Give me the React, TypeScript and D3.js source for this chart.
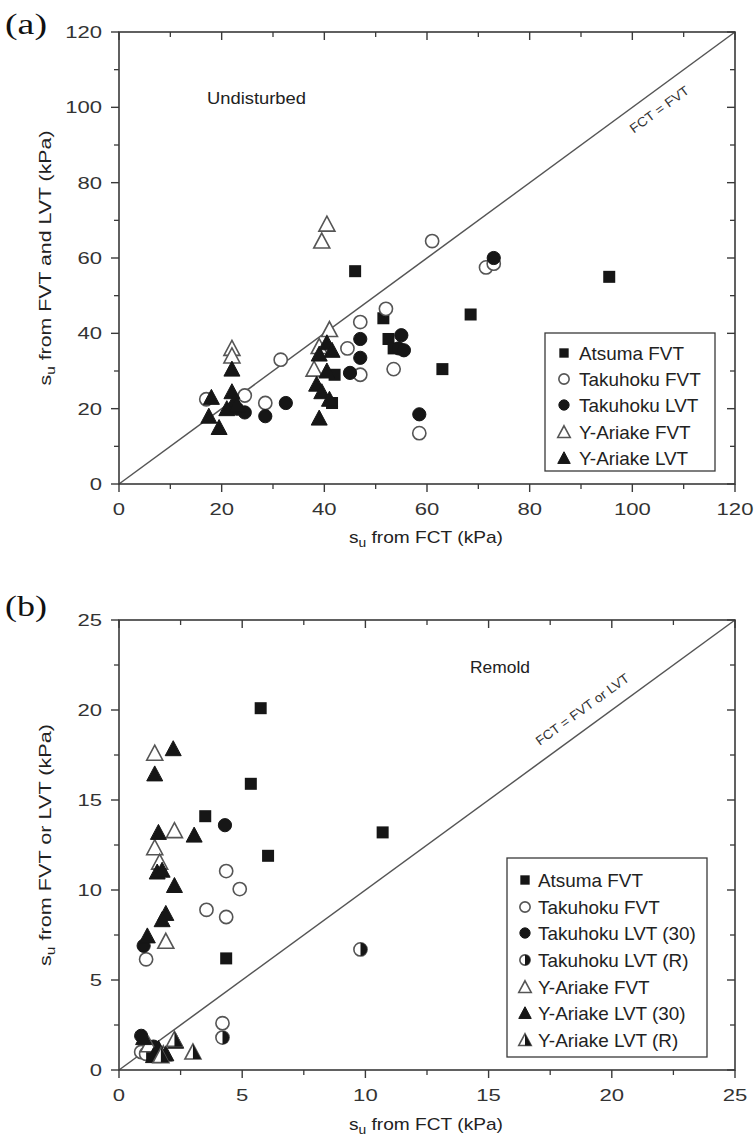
import React from 'react';
import * as d3 from 'd3';

type P = [number, number];

// ---------- Panel (a): Undisturbed ----------
const aTicks = [0, 20, 40, 60, 80, 100, 120];
const aMinor = [10, 30, 50, 70, 90, 110];
const aAtsumaFVT: P[] = [[46, 56.5], [95.5, 55], [68.5, 45], [63, 30.5], [51.5, 44], [52.5, 38.5], [53.5, 36], [42, 29], [41.5, 21.5]];
const aTakuhokuFVT: P[] = [[17, 22.5], [24.5, 23.5], [28.5, 21.5], [31.5, 33], [44.5, 36], [47, 43], [47, 29], [52, 46.5], [53.5, 30.5], [58.5, 13.5], [61, 64.5], [71.5, 57.5], [73, 58.5]];
const aTakuhokuLVT: P[] = [[24.5, 19], [28.5, 18], [32.5, 21.5], [45, 29.5], [47, 33.5], [47, 38.5], [54.5, 36], [55, 39.5], [55.5, 35.5], [58.5, 18.5], [73, 60], [23, 20]];
const aYAriakeFVT: P[] = [[22, 36], [22, 34], [39.5, 64.5], [40.5, 69], [41, 41], [38, 30.5], [39, 36.5]];
const aYAriakeLVT: P[] = [[17.5, 18], [18, 23], [19.5, 15], [22, 30.5], [22, 24.5], [22.5, 22], [21, 20], [23, 21], [39, 34.5], [40.5, 37.5], [41.5, 35.5], [40.5, 30], [38.5, 26.5], [39.5, 24.5], [41, 22.5], [39, 17.5]];

// ---------- Panel (b): Remold ----------
const bTicks = [0, 5, 10, 15, 20, 25];
const bMinor = [2.5, 7.5, 12.5, 17.5, 22.5];
const bAtsumaFVT: P[] = [[5.75, 20.1], [5.35, 15.9], [3.5, 14.1], [6.05, 11.9], [4.35, 6.2], [10.7, 13.2]];
const bTakuhokuFVT: P[] = [[4.35, 11.05], [4.9, 10.05], [3.55, 8.9], [4.35, 8.5], [1.1, 6.15], [4.2, 2.6], [0.9, 1.0], [1.3, 1.2]];
const bTakuhokuLVT30: P[] = [[4.3, 13.6], [1.0, 6.9], [0.9, 1.9], [1.4, 1.3]];
const bTakuhokuLVTR: P[] = [[4.2, 1.8], [9.8, 6.7], [1.1, 0.9]];
const bYAriakeFVT: P[] = [[1.45, 17.6], [1.45, 12.35], [1.65, 11.55], [2.25, 13.3], [1.9, 7.15], [1.2, 1.4], [1.8, 0.9]];
const bYAriakeLVT30: P[] = [[2.2, 17.85], [1.45, 16.45], [1.6, 13.2], [3.05, 13.05], [1.55, 11.0], [1.75, 11.1], [2.25, 10.25], [1.9, 8.7], [1.75, 8.35], [1.15, 7.45], [1.0, 1.8], [1.6, 1.2], [2.3, 1.6], [1.9, 0.9], [1.4, 0.8]];
const bYAriakeLVTR: P[] = [[2.25, 1.7], [3.0, 1.0], [1.7, 0.8]];

const SANS = '"Liberation Sans", Arial, sans-serif';
const SERIF = '"Liberation Serif", "Times New Roman", serif';
const DARK = '#161616';
const GRAY = '#555';
const AX = '#3a3a3a';

type Kind = 'square' | 'circO' | 'circF' | 'circH' | 'triO' | 'triF' | 'triH';

function Marker({ kind, x, y, s = 1 }: { kind: Kind; x: number; y: number; s?: number }) {
  const sq = 12 * s;
  const r = 6.6 * s;
  const tw = 16 * s;
  const th = 14 * s;
  const tri = `M0,${-th / 2 - 1 * s} L${tw / 2},${th / 2} L${-tw / 2},${th / 2} Z`;
  const triRight = `M0,${-th / 2 - 1 * s} L${tw / 2},${th / 2} L0,${th / 2} Z`;
  const halfC = `M0,${-r} A${r},${r} 0 0 1 0,${r} Z`;
  const sw = 1.6;
  return (
    <g transform={`translate(${x},${y})`}>
      {kind === 'square' && <rect x={-sq / 2} y={-sq / 2} width={sq} height={sq} fill={DARK} />}
      {kind === 'circO' && <circle r={r} fill="#fff" stroke={GRAY} strokeWidth={sw} />}
      {kind === 'circF' && <circle r={r} fill={DARK} stroke={DARK} strokeWidth={1} />}
      {kind === 'circH' && (
        <g>
          <circle r={r} fill="#fff" stroke={GRAY} strokeWidth={sw} />
          <path d={halfC} fill={DARK} />
        </g>
      )}
      {kind === 'triO' && <path d={tri} fill="#fff" stroke={GRAY} strokeWidth={sw} strokeLinejoin="miter" />}
      {kind === 'triF' && <path d={tri} fill={DARK} stroke={DARK} strokeWidth={1} />}
      {kind === 'triH' && (
        <g>
          <path d={tri} fill="#fff" stroke={GRAY} strokeWidth={sw} />
          <path d={triRight} fill={DARK} />
        </g>
      )}
    </g>
  );
}

function Sub({ main, rest, size }: { main: string; rest: string; size: number }) {
  return (
    <>
      {main}
      <tspan fontSize={size * 0.72} dy={size * 0.25}>u</tspan>
      <tspan dy={-size * 0.25}>{rest}</tspan>
    </>
  );
}

type Series = { name: string; kind: Kind; data: P[] };

type PanelCfg = {
  label: string;
  labelY: number;
  x: d3.ScaleLinear<number, number>;
  y: d3.ScaleLinear<number, number>;
  ticks: number[];
  minor: number[];
  max: number;
  series: Series[];
  yTitle: string;
  yTitleLen: number;
  xTitleY: number;
  note: string;
  noteX: number;
  noteY: number;
  noteLen: number;
  diag: string;
  diagX: number;
  diagY: number;
  diagLen: number;
  legend: { x0: number; y0: number; x1: number; y1: number; symX: number; textX: number; rows: number[] };
};

function Panel({ c }: { c: PanelCfg }) {
  const { x, y } = c;
  const [x0, x1] = x.range();
  const [y0, y1] = y.range();
  const angle = (Math.atan2(y0 - y1, x1 - x0) * 180) / Math.PI;
  const maj = 8;
  const mnr = 5;
  return (
    <g>
      <text x={5} y={c.labelY} fontFamily={SERIF} fontSize={29} fill="#111" textLength={42} lengthAdjust="spacingAndGlyphs">
        {c.label}
      </text>
      {/* diagonal */}
      <line x1={x(0)} y1={y(0)} x2={x(c.max)} y2={y(c.max)} stroke={GRAY} strokeWidth={1.5} />
      {/* frame */}
      <rect x={x0} y={y1} width={x1 - x0} height={y0 - y1} fill="none" stroke={AX} strokeWidth={1.6} />
      {/* ticks */}
      {c.ticks.map((t) => (
        <g key={'t' + t}>
          <line x1={x(t)} x2={x(t)} y1={y0} y2={y0 + maj} stroke={AX} strokeWidth={1.4} />
          <line x1={x(t)} x2={x(t)} y1={y1} y2={y1 + maj} stroke={AX} strokeWidth={1.4} />
          <line y1={y(t)} y2={y(t)} x1={x0 - maj} x2={x0} stroke={AX} strokeWidth={1.4} />
          <line y1={y(t)} y2={y(t)} x1={x1 - maj} x2={x1} stroke={AX} strokeWidth={1.4} />
          <text transform={`translate(${x(t)},${y0 + 31}) scale(1.3,1)`} textAnchor="middle" fontFamily={SANS} fontSize={17} fill="#333">
            {t}
          </text>
          <text transform={`translate(${x0 - 17},${y(t) + 6}) scale(1.3,1)`} textAnchor="end" fontFamily={SANS} fontSize={17} fill="#333">
            {t}
          </text>
        </g>
      ))}
      {c.minor.map((t) => (
        <g key={'m' + t}>
          <line x1={x(t)} x2={x(t)} y1={y0} y2={y0 + mnr} stroke={AX} strokeWidth={1.3} />
          <line x1={x(t)} x2={x(t)} y1={y1} y2={y1 + mnr} stroke={AX} strokeWidth={1.3} />
          <line y1={y(t)} y2={y(t)} x1={x0 - mnr} x2={x0} stroke={AX} strokeWidth={1.3} />
          <line y1={y(t)} y2={y(t)} x1={x1 - mnr} x2={x1} stroke={AX} strokeWidth={1.3} />
        </g>
      ))}
      {/* axis titles */}
      <text x={(x0 + x1) / 2 - 1} y={c.xTitleY} textAnchor="middle" fontFamily={SANS} fontSize={17} fill="#222" textLength={154} lengthAdjust="spacingAndGlyphs">
        <Sub main="s" rest=" from FCT (kPa)" size={17} />
      </text>
      <text transform={`translate(51,${(y0 + y1) / 2}) rotate(-90)`} textAnchor="middle" fontFamily={SANS} fontSize={17} fill="#222" textLength={c.yTitleLen} lengthAdjust="spacingAndGlyphs">
        <Sub main="s" rest={c.yTitle} size={17} />
      </text>
      {/* notes */}
      <text x={c.noteX} y={c.noteY} fontFamily={SANS} fontSize={17} fill="#222" textLength={c.noteLen} lengthAdjust="spacingAndGlyphs">
        {c.note}
      </text>
      <text transform={`translate(${c.diagX},${c.diagY}) rotate(${-angle})`} textAnchor="middle" fontFamily={SANS} fontSize={13} fill="#333" textLength={c.diagLen} lengthAdjust="spacingAndGlyphs">
        {c.diag}
      </text>
      {/* data */}
      {c.series.map((s) => (
        <g key={s.name}>
          {s.data.map((d, i) => (
            <Marker key={i} kind={s.kind} x={x(d[0])} y={y(d[1])} />
          ))}
        </g>
      ))}
      {/* legend */}
      <rect x={c.legend.x0} y={c.legend.y0} width={c.legend.x1 - c.legend.x0} height={c.legend.y1 - c.legend.y0} fill="#fff" stroke={AX} strokeWidth={1.3} />
      {c.series.map((s, i) => (
        <g key={'l' + s.name}>
          <Marker kind={s.kind} x={c.legend.symX} y={c.legend.rows[i]} s={0.78} />
          <text transform={`translate(${c.legend.textX},${c.legend.rows[i] + 6.5}) scale(1.05,1)`} fontFamily={SANS} fontSize={18} fill="#222">
            {s.name}
          </text>
        </g>
      ))}
    </g>
  );
}

export default function App() {
  const ax = d3.scaleLinear().domain([0, 120]).range([119, 735]);
  const ay = d3.scaleLinear().domain([0, 120]).range([484, 32]);
  const bx = d3.scaleLinear().domain([0, 25]).range([119, 735]);
  const by = d3.scaleLinear().domain([0, 25]).range([1070, 620]);

  const a: PanelCfg = {
    label: '(a)',
    labelY: 34,
    x: ax,
    y: ay,
    ticks: aTicks,
    minor: aMinor,
    max: 120,
    series: [
      { name: 'Atsuma FVT', kind: 'square', data: aAtsumaFVT },
      { name: 'Takuhoku FVT', kind: 'circO', data: aTakuhokuFVT },
      { name: 'Takuhoku LVT', kind: 'circF', data: aTakuhokuLVT },
      { name: 'Y-Ariake FVT', kind: 'triO', data: aYAriakeFVT },
      { name: 'Y-Ariake LVT', kind: 'triF', data: aYAriakeLVT },
    ],
    yTitle: ' from FVT and LVT (kPa)',
    yTitleLen: 255,
    xTitleY: 543,
    note: 'Undisturbed',
    noteX: 207,
    noteY: 104,
    noteLen: 99,
    diag: 'FCT = FVT',
    diagX: 662,
    diagY: 113,
    diagLen: 70,
    legend: { x0: 545, y0: 333, x1: 715, y1: 471, symX: 564, textX: 579, rows: [353, 379, 405, 432, 458] },
  };

  const b: PanelCfg = {
    label: '(b)',
    labelY: 616,
    x: bx,
    y: by,
    ticks: bTicks,
    minor: bMinor,
    max: 25,
    series: [
      { name: 'Atsuma FVT', kind: 'square', data: bAtsumaFVT },
      { name: 'Takuhoku FVT', kind: 'circO', data: bTakuhokuFVT },
      { name: 'Takuhoku LVT (30)', kind: 'circF', data: bTakuhokuLVT30 },
      { name: 'Takuhoku LVT (R)', kind: 'circH', data: bTakuhokuLVTR },
      { name: 'Y-Ariake FVT', kind: 'triO', data: bYAriakeFVT },
      { name: 'Y-Ariake LVT (30)', kind: 'triF', data: bYAriakeLVT30 },
      { name: 'Y-Ariake LVT (R)', kind: 'triH', data: bYAriakeLVTR },
    ],
    yTitle: ' from FVT or LVT (kPa)',
    yTitleLen: 242,
    xTitleY: 1130,
    note: 'Remold',
    noteX: 470,
    noteY: 673,
    noteLen: 60,
    diag: 'FCT = FVT or LVT',
    diagX: 585,
    diagY: 713,
    diagLen: 112,
    legend: { x0: 507, y0: 858, x1: 707, y1: 1057, symX: 525, textX: 538, rows: [880, 907, 933, 960, 987, 1013, 1040] },
  };

  return (
    <svg width={756} height={1148} style={{ position: 'absolute', left: 0, top: 0, background: '#fff' }}>
      <rect width={756} height={1148} fill="#fff" />
      <Panel c={a} />
      <Panel c={b} />
    </svg>
  );
}
